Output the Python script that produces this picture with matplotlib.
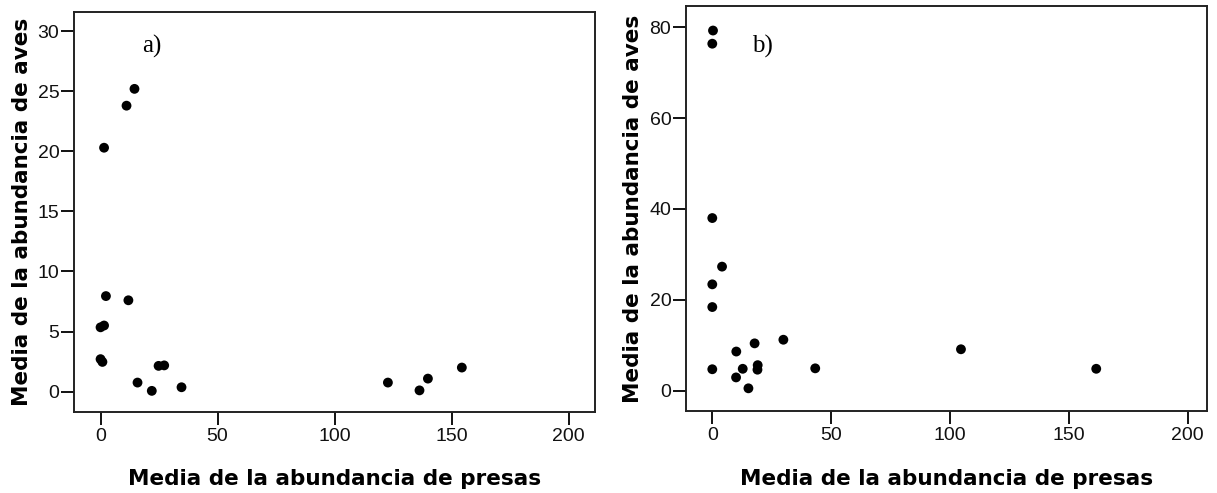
import matplotlib.pyplot as plt

plt.rcParams['font.family'] = ['Liberation Sans', 'DejaVu Sans']

# panel a) values
presas_a = [14.5, 11.1, 1.5, 2.3, 11.9, 0.0, 1.5, 0.0, 0.8, 24.8, 27.2, 15.8, 21.9, 34.6,
            122.8, 136.3, 139.9, 154.4]
aves_a = [25.2, 23.8, 20.3, 7.95, 7.6, 5.35, 5.5, 2.7, 2.47, 2.14, 2.18, 0.75, 0.06, 0.36,
          0.75, 0.1, 1.08, 2.0]

# panel b) values
presas_b = [0.3, 0.0, 0.0, 4.1, 0.0, 0.0, 0.0, 10.1, 17.8, 29.9, 12.8, 10.0, 19.1, 19.0,
            15.2, 43.3, 104.6, 161.5]
aves_b = [79.3, 76.4, 38.0, 27.3, 23.4, 18.4, 4.7, 8.6, 10.4, 11.2, 4.8, 2.9, 5.6, 4.6,
          0.5, 4.9, 9.1, 4.8]

xticks = [0, 50, 100, 150, 200]
yticks_a = [0, 5, 10, 15, 20, 25, 30]
yticks_b = [0, 20, 40, 60, 80]

fig = plt.figure(figsize=(12.17, 4.93), dpi=100)
ax1 = fig.add_axes([0.0607, 0.1643, 0.4282, 0.8114])
ax2 = fig.add_axes([0.5636, 0.1663, 0.4282, 0.8215])

panels = [
    (ax1, presas_a, aves_a, yticks_a, (-1.7, 31.6), (-11.4, 211.3), "a)", 0.131, 0.8975, -0.088),
    (ax2, presas_b, aves_b, yticks_b, (-4.5, 84.7), (-11.1, 208.1), "b)", 0.127, 0.884, -0.090),
]

for ax, x, y, yt, ylim, xlim, tag, tx, ty, ylx in panels:
    ax.scatter(x, y, s=50, color="black", edgecolors="none", zorder=3)
    ax.set_xlim(*xlim)
    ax.set_ylim(*ylim)
    ax.set_xticks(xticks)
    ax.set_yticks(yt)
    ax.tick_params(direction="out", length=9.5, width=1.4, labelsize=14, colors="#111111")
    ax.tick_params(axis="y", pad=1)
    ax.tick_params(axis="x", pad=2)
    for sp in ax.spines.values():
        sp.set_linewidth(1.4)
        sp.set_color("#222222")
    ax.set_xlabel("Media de la abundancia de presas", fontsize=15.5, fontweight="bold",
                  family="DejaVu Sans", va="baseline")
    ax.xaxis.set_label_coords(0.5, -0.1825)
    ax.set_ylabel("Media de la abundancia de aves", fontsize=15.5, fontweight="bold",
                  family="DejaVu Sans", va="baseline")
    ax.yaxis.set_label_coords(ylx, 0.5)
    ax.text(tx, ty, tag, transform=ax.transAxes, fontsize=18,
            family="Liberation Serif", va="baseline", ha="left")

fig.savefig("out.png", dpi=100)
